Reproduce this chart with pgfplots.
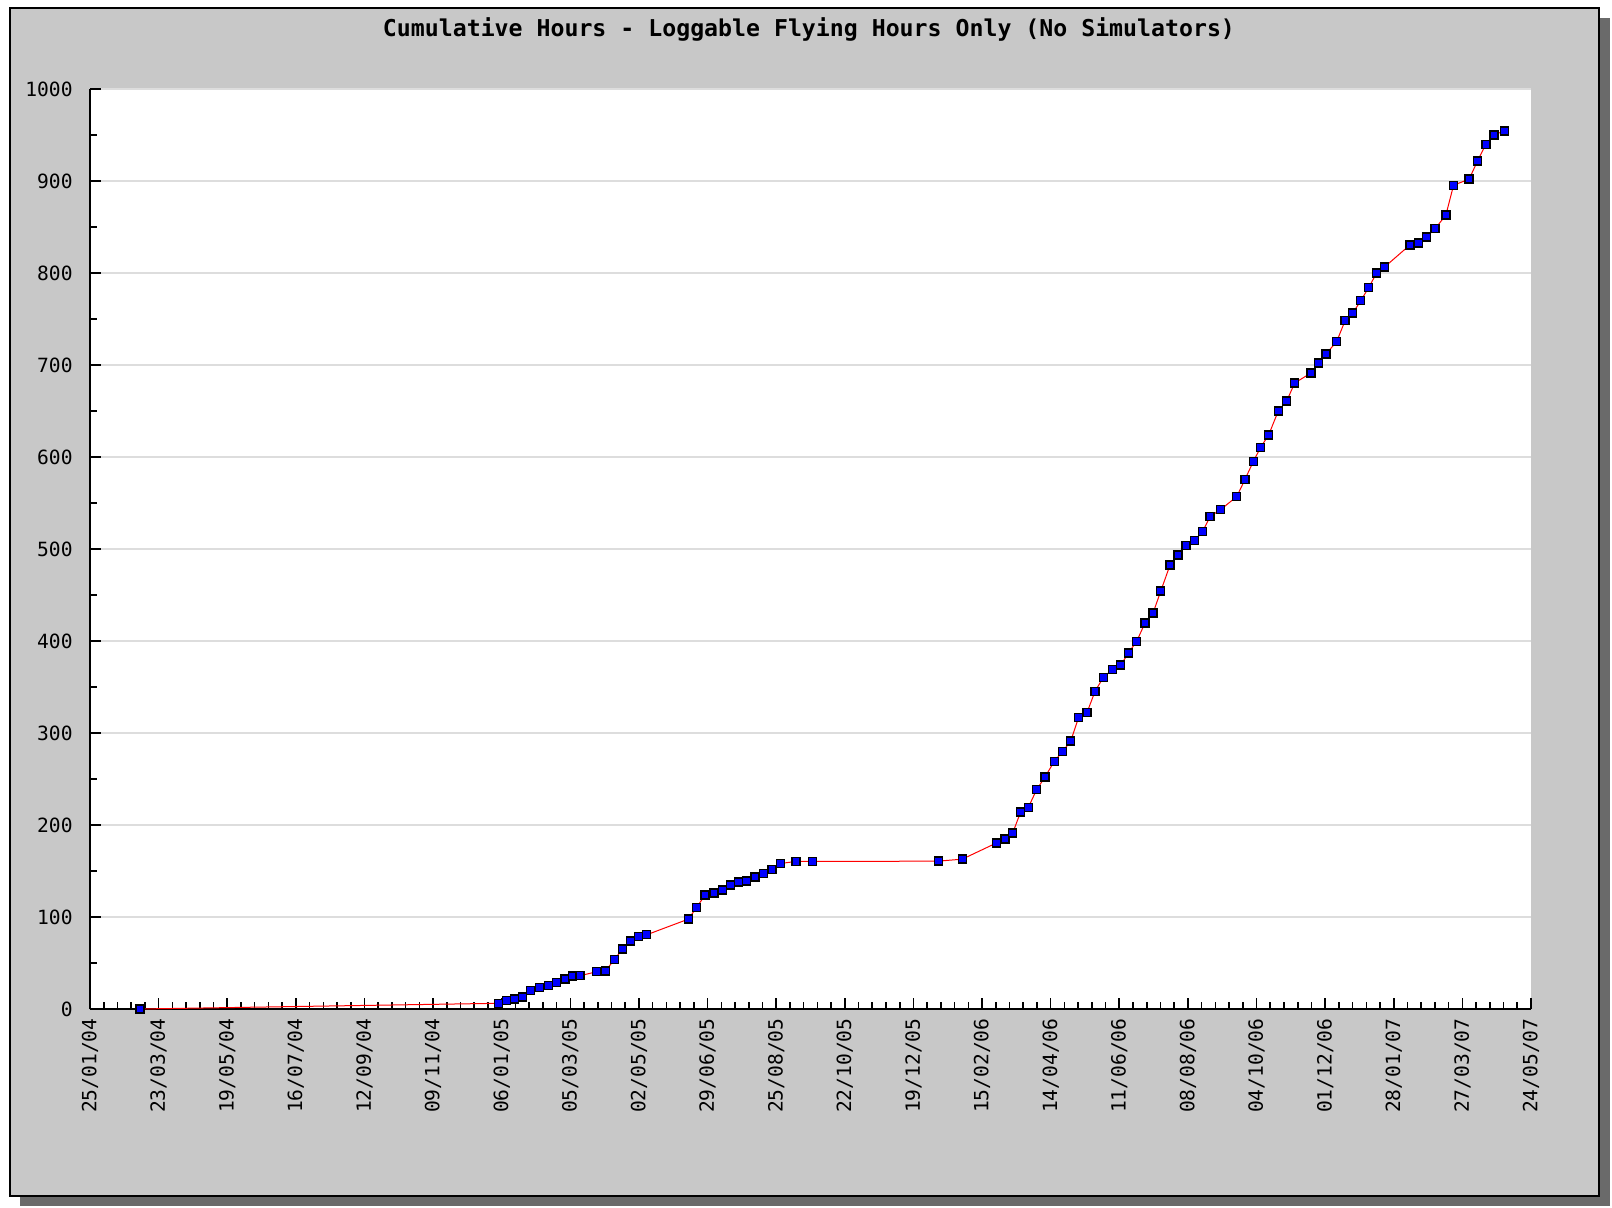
\documentclass[border=0pt]{standalone}
\usepackage{pgfplots}
\pgfplotsset{compat=1.18}
\usepackage{pgfplotstable}
\usepackage{fontspec}
\setmonofont{DejaVu Sans Mono}
\definecolor{panel}{HTML}{C8C8C8}
\definecolor{shadowc}{HTML}{6A6A6A}
\definecolor{gridc}{HTML}{DDDDDD}

\pgfplotstableread{
day hours
42 0
344.3 6.2
351.3 9.0
357.7 10.9
364.5 13.0
371.6 19.9
378.8 23.6
386.8 25.7
393.5 28.6
400.5 32.6
407.0 35.8
413.2 36.2
427.2 40.5
434.8 41.3
442.1 54.0
449.2 65.1
455.9 73.8
462.6 78.5
469.4 80.7
504.5 97.7
511.5 110.4
518.5 123.8
526.1 126.3
533.1 129.2
539.9 134.6
546.6 138.2
553.7 139.0
560.7 143.6
567.7 147.3
575.0 151.7
582.4 158.2
595.3 160.4
609.0 160.4
715.3 160.7
735.5 162.9
764.5 180.6
771.5 184.6
778.0 191.4
784.7 214.2
791.1 219.0
798.2 238.5
805.2 252.2
813.1 269.3
820.2 280.1
826.9 291.3
833.6 317.0
840.6 322.1
847.4 345.3
854.4 360.5
862.3 369.2
869.1 373.8
875.5 386.9
882.5 399.6
889.5 419.5
896.3 430.3
902.8 454.2
910.6 482.4
917.4 493.3
924.1 504.1
931.4 509.2
938.2 519.3
944.4 535.3
953.4 542.9
966.9 557.0
973.9 575.8
980.9 595.3
987.1 610.6
993.8 624.0
1001.9 650.0
1009.0 660.9
1015.8 680.5
1029.5 691.3
1035.7 702.2
1042.2 712.0
1051.2 725.6
1058.2 748.1
1064.7 756.4
1071.4 769.8
1078.2 784.3
1084.9 800.2
1091.7 806.7
1113.0 830.6
1120.0 832.4
1127.1 839.3
1134.2 848.3
1143.2 862.9
1149.7 895.4
1162.8 902.0
1169.9 921.8
1176.9 939.9
1183.9 950.1
1192.4 954.4
}\flightdata

\begin{document}
\begin{tikzpicture}
\fill[white] (-45pt,504.5pt) rectangle (761pt,-99pt);
\fill[shadowc] (-35pt,495.5pt) rectangle (760pt,-98.5pt);
\filldraw[fill=panel, draw=black, line width=0.6pt] (-40pt,500.5pt) rectangle (754.5pt,-93.5pt);
\begin{axis}[
  at={(0pt,0pt)}, anchor=south west,
  scale only axis, width=720.5pt, height=460pt,
  xmin=0, xmax=1215, ymin=0, ymax=1000,
  axis lines*=left,
  axis line style={line width=1pt, black},
  axis background/.style={fill=white},
  clip=false,
  xtick={0,57.857,115.714,173.571,231.429,289.286,347.143,405,462.857,520.714,578.571,636.429,694.286,752.143,810,867.857,925.714,983.571,1041.429,1099.286,1157.143,1215},
  xticklabels={25/01/04,23/03/04,19/05/04,16/07/04,12/09/04,09/11/04,06/01/05,05/03/05,02/05/05,29/06/05,25/08/05,22/10/05,19/12/05,15/02/06,14/04/06,11/06/06,08/08/06,04/10/06,01/12/06,28/01/07,27/03/07,24/05/07},
  ytick={0,100,...,1000},
  /pgf/number format/1000 sep={},
  minor x tick num=4,
  minor y tick num=1,
  tick align=inside,
  major tick length=5.5pt,
  minor tick length=3.5pt,
  tick style={black, line width=0.8pt},
  ymajorgrids=true,
  major grid style={draw=gridc, line width=0.7pt},
  /pgf/number format/assume math mode=true,
  ticklabel style={font=\ttfamily\fontsize{9.8}{12}\selectfont},
  xticklabel style={rotate=90, anchor=east, inner xsep=4.5pt, inner ysep=0pt},
  yticklabel style={anchor=east, inner xsep=8.5pt, inner ysep=0pt},
]
\addplot[only marks, mark=square*, mark size=2pt, mark options={fill=blue, draw=black, line width=0.7pt}] table[x=day, y=hours] {\flightdata};
\addplot[red, line width=0.5pt, no marks] table[x=day, y=hours] {\flightdata};
\end{axis}
\node[font=\ttfamily\bfseries\fontsize{11.6}{14}\selectfont] at (359.5pt,490pt) {Cumulative Hours - Loggable Flying Hours Only (No Simulators)};
\end{tikzpicture}
\end{document}
